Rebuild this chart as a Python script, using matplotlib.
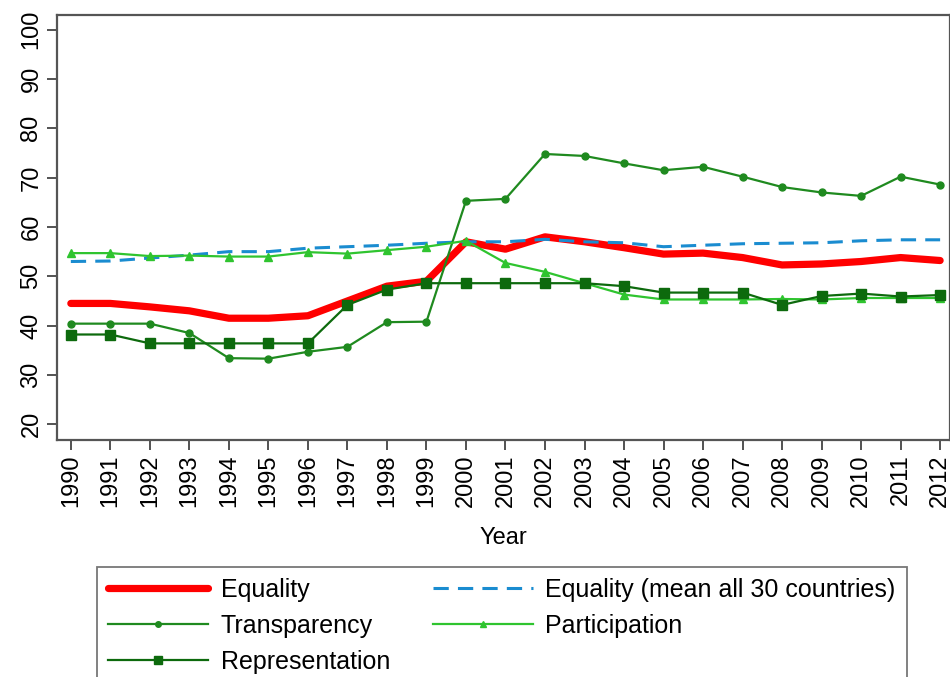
import numpy as np
import matplotlib
matplotlib.use('Agg')
import matplotlib.pyplot as plt

plt.rcParams['font.family'] = ['Liberation Sans', 'DejaVu Sans']

years = list(range(1990, 2013))

equality = [44.5, 44.5, 43.8, 43.0, 41.5, 41.5, 42.0, 45.0, 48.0, 49.0, 57.0, 55.5,
            58.0, 57.0, 55.8, 54.5, 54.7, 53.8, 52.3, 52.5, 53.0, 53.8, 53.2]
equality_mean = [53.0, 53.1, 53.7, 54.3, 55.0, 55.0, 55.7, 56.0, 56.3, 56.7, 57.0, 57.0,
                 57.5, 57.0, 56.8, 56.0, 56.3, 56.6, 56.7, 56.8, 57.2, 57.4, 57.4]
transparency = [40.4, 40.4, 40.4, 38.5, 33.4, 33.3, 34.7, 35.7, 40.7, 40.8, 65.3, 65.7,
                74.8, 74.4, 72.9, 71.5, 72.2, 70.2, 68.1, 67.0, 66.3, 70.2, 68.6]
participation = [54.7, 54.7, 54.1, 54.2, 54.0, 54.0, 54.9, 54.6, 55.3, 56.0, 57.2, 52.7,
                 50.9, 48.6, 46.3, 45.3, 45.3, 45.3, 45.4, 45.3, 45.6, 45.6, 45.6]
representation = [38.2, 38.2, 36.4, 36.4, 36.4, 36.4, 36.4, 44.2, 47.3, 48.6, 48.6, 48.6,
                  48.6, 48.6, 48.0, 46.7, 46.7, 46.7, 44.2, 46.0, 46.5, 45.9, 46.2]

fig = plt.figure(figsize=(9.5, 6.77), dpi=100)
ax = fig.add_axes([0.06, 0.35, 0.94, 0.628])

l_eq, = ax.plot(years, equality, color='#ff0000', lw=5.2, label='Equality',
                solid_capstyle='round')
l_mean, = ax.plot(years, equality_mean, color='#1a8cd0', lw=2.2, dashes=(5, 3),
                  label='Equality (mean all 30 countries)')
l_tr, = ax.plot(years, transparency, color='#1f8a1f', lw=1.6, marker='o', ms=5,
                label='Transparency')
l_pa, = ax.plot(years, participation, color='#2fc42f', lw=1.6, marker='^', ms=6,
                label='Participation')
l_re, = ax.plot(years, representation, color='#0d6a0d', lw=1.6, marker='s', ms=6.5,
                label='Representation')

ax.set_xlim(1989.65, 2012.25)
ax.set_ylim(16.8, 103)
ax.set_xticks(years)
ax.set_xticklabels([str(y) for y in years], rotation=90, fontsize=17)
ax.set_yticks(range(20, 101, 10))
ax.set_yticklabels([str(v) for v in range(20, 101, 10)], rotation=90, va='center',
                   fontsize=17)
ax.tick_params(length=7, width=1.3, color='#444444')
for s in ax.spines.values():
    s.set_color('#555555')
    s.set_linewidth(1.6)
ax.set_xlabel('Year', fontsize=17, labelpad=14)

# legend fills column-first, so order handles to read row-wise
handles = [l_eq, l_tr, l_re, l_mean, l_pa]
leg = ax.legend(handles, [h.get_label() for h in handles],
                loc='upper left', bbox_to_anchor=(0.102, 0.163),
                bbox_transform=fig.transFigure, ncol=2, fontsize=18,
                frameon=True, fancybox=False, handlelength=4.0,
                handletextpad=0.5, columnspacing=1.7, labelspacing=0.48,
                borderpad=0.45, borderaxespad=0, markerscale=0.8)
leg.get_frame().set_edgecolor('#555555')
leg.get_frame().set_linewidth(1.3)

fig.savefig('out.png', dpi=100)
